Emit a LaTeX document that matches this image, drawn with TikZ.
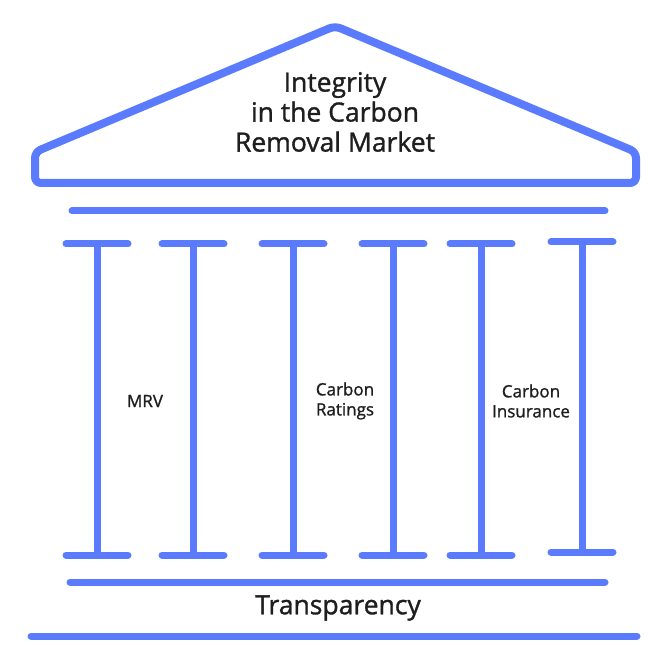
\documentclass[tikz,border=0pt]{standalone}
\usepackage{fontspec}
\setmainfont{Open Sans}[FakeBold=1.2,UprightFeatures={FakeBold=1.2}]
\definecolor{pillar}{RGB}{91,123,255}
\definecolor{ink}{RGB}{30,30,30}

\begin{document}
\begin{tikzpicture}[x=1pt,y=-1pt,
   beam/.style={draw=pillar,line width=7pt,line cap=round},
   roof/.style={draw=pillar,line width=8pt,line join=round,rounded corners=6pt},
   title/.style={text=ink,font=\fontsize{26.5}{30}\selectfont,align=center,inner sep=0pt},
   label/.style={text=ink,font=\fontsize{17}{20}\selectfont,align=center,inner sep=0pt}
]
\useasboundingbox (0,0) rectangle (664,647);
% roof
\draw[roof] (335,183) -- (35,183) -- (35,152) -- (335,26) -- (636,152) -- (636,183) -- cycle;
\node[title] (Top) at (335,112) {Integrity\\in the Carbon\\Removal Market};
% beams
\draw[beam] (72,211) -- (605,211);
\draw[beam] (70,582) -- (605,582);
\draw[beam] (31,636) -- (637,636);
% columns
\foreach \x/\t/\b in {97/244/555,193/244/555,293/244/555,393/244/555,481/244/555,582/242/552}{
  \draw[beam] (\x-31,\t) -- (\x+31,\t);
  \draw[beam] (\x,\t) -- (\x,\b);
  \draw[beam] (\x-31,\b) -- (\x+31,\b);
}
\foreach \Pos/\Name/\Text in {145/mrv/MRV,345/ratings/Carbon\\Ratings,531/insurance/Carbon\\Insurance}
  \node[label] (\Name) at (\Pos,401) {\Text};
\node[title] (Base) at (338,608) {Transparency};
\end{tikzpicture}
\end{document}
